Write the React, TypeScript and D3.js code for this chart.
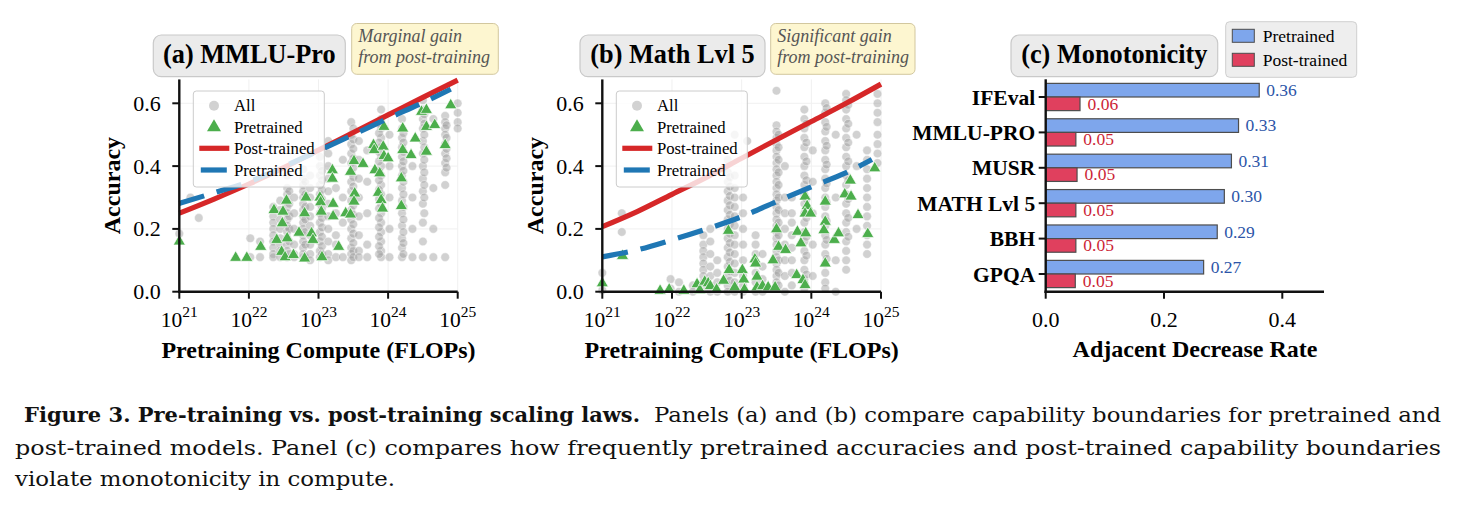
import * as d3 from "d3";

// ---- data ----
const logTicks = [21, 22, 23, 24, 25];
const accTicks = [0, 0.2, 0.4, 0.6];

// (a) MMLU-Pro: gray "All" points as columns [log10 compute, accuracies]
const mmluAll: [number, number[]][] = [
  [21.0, [0.185]],
  [21.16, [0.3]],
  [21.28, [0.235]],
  [22.02, [0.17, 0.11]],
  [22.16, [0.16, 0.11]],
  [22.35, [0.27, 0.24, 0.22, 0.2, 0.18, 0.16, 0.14, 0.12, 0.11]],
  [22.45, [0.29, 0.26, 0.23, 0.2, 0.17, 0.15, 0.13, 0.11]],
  [22.55, [0.37, 0.33, 0.31, 0.29, 0.27, 0.25, 0.23, 0.21, 0.19, 0.17, 0.15, 0.13, 0.11]],
  [22.58, [0.32, 0.28, 0.24, 0.2, 0.16, 0.12]],
  [22.65, [0.3, 0.25, 0.2, 0.15, 0.12, 0.11]],
  [22.78, [0.39, 0.36, 0.34, 0.32, 0.3, 0.28, 0.26, 0.24, 0.22, 0.2, 0.18, 0.16, 0.14, 0.12, 0.11]],
  [22.81, [0.35, 0.31, 0.27, 0.23, 0.19, 0.15, 0.11]],
  [22.88, [0.37, 0.33, 0.3, 0.27, 0.24, 0.21, 0.18, 0.15, 0.12, 0.1]],
  [23.02, [0.43, 0.4, 0.37, 0.34, 0.31, 0.28, 0.25, 0.22, 0.19, 0.16, 0.13, 0.11]],
  [23.05, [0.385, 0.355, 0.325, 0.295, 0.265, 0.235, 0.205, 0.175, 0.145, 0.12]],
  [23.14, [0.48, 0.44, 0.4, 0.36, 0.32, 0.28, 0.24, 0.2, 0.16, 0.12, 0.1]],
  [23.25, [0.33, 0.25, 0.18, 0.15, 0.11]],
  [23.35, [0.42, 0.3, 0.22, 0.11]],
  [23.47, [0.54, 0.5, 0.47, 0.44, 0.41, 0.38, 0.35, 0.32, 0.29, 0.26, 0.23, 0.2, 0.17, 0.14, 0.12, 0.1]],
  [23.5, [0.52, 0.485, 0.455, 0.425, 0.395, 0.365, 0.335, 0.305, 0.275, 0.245, 0.215, 0.185, 0.155, 0.13, 0.11]],
  [23.58, [0.48, 0.42, 0.36, 0.3, 0.24, 0.18, 0.13, 0.11]],
  [23.7, [0.45, 0.35, 0.25, 0.15, 0.11]],
  [23.9, [0.58, 0.55, 0.52, 0.49, 0.46, 0.43, 0.4, 0.37, 0.34, 0.31, 0.28, 0.25, 0.22, 0.19, 0.16, 0.13, 0.11]],
  [23.87, [0.535, 0.505, 0.475, 0.445, 0.415, 0.385, 0.355, 0.325, 0.295, 0.265, 0.235, 0.205, 0.175, 0.145, 0.12]],
  [24.02, [0.5, 0.4, 0.3, 0.2, 0.11]],
  [24.2, [0.55, 0.52, 0.49, 0.46, 0.43, 0.4, 0.37, 0.33, 0.29, 0.25, 0.21, 0.17, 0.14, 0.11]],
  [24.22, [0.505, 0.475, 0.445, 0.415, 0.385, 0.35, 0.31, 0.27, 0.23, 0.19, 0.155, 0.12]],
  [24.35, [0.4, 0.3, 0.2, 0.11]],
  [24.5, [0.61, 0.58, 0.55, 0.52, 0.48, 0.44, 0.4, 0.36, 0.32, 0.28, 0.22, 0.16, 0.11]],
  [24.52, [0.565, 0.535, 0.5, 0.46, 0.42, 0.38, 0.34, 0.3, 0.25]],
  [24.65, [0.55, 0.33, 0.2, 0.11]],
  [24.82, [0.56, 0.54, 0.52, 0.5, 0.47, 0.44, 0.41, 0.38, 0.34, 0.11]],
  [24.84, [0.53, 0.49, 0.455, 0.425, 0.395]],
  [25.0, [0.6, 0.57, 0.54, 0.52]],
];
const mmluPre: [number, number][] = [
  [21.0, 0.16], [21.81, 0.108], [21.97, 0.108], [22.17, 0.143], [22.36, 0.26], [22.4, 0.165],
  [22.47, 0.127], [22.49, 0.255], [22.48, 0.218], [22.52, 0.11], [22.54, 0.29], [22.55, 0.17],
  [22.64, 0.117], [22.72, 0.188], [22.8, 0.106], [22.8, 0.25], [22.82, 0.3], [22.9, 0.186],
  [22.92, 0.165], [23.02, 0.3], [23.03, 0.285], [23.04, 0.255], [23.05, 0.11], [23.2, 0.387],
  [23.2, 0.36], [23.21, 0.28], [23.21, 0.24], [23.29, 0.143], [23.39, 0.25], [23.46, 0.246],
  [23.46, 0.382], [23.51, 0.416], [23.52, 0.313], [23.51, 0.287], [23.64, 0.407], [23.79, 0.467],
  [23.8, 0.451], [23.81, 0.387], [23.88, 0.377], [23.86, 0.315], [23.9, 0.292], [23.92, 0.265],
  [23.93, 0.462], [23.94, 0.432], [23.94, 0.525], [24.0, 0.425], [24.19, 0.361], [24.19, 0.273],
  [24.21, 0.52], [24.21, 0.451], [24.33, 0.435], [24.39, 0.488], [24.48, 0.573], [24.55, 0.579],
  [24.55, 0.525], [24.55, 0.446], [24.67, 0.531], [24.82, 0.467], [24.9, 0.594],
];
const mmluPostFit: [number, number][] = [
  [21, 0.25], [21.5, 0.295], [22, 0.343], [22.5, 0.395], [23, 0.451],
  [23.5, 0.507], [24, 0.563], [24.5, 0.619], [25, 0.674],
];
const mmluPreFit: [number, number][] = [
  [21, 0.281], [21.5, 0.315], [22, 0.35], [22.5, 0.398], [23, 0.449],
  [23.5, 0.5], [24, 0.552], [24.5, 0.602], [24.9, 0.645],
];

// (b) Math Lvl 5
const mathAll: [number, number[]][] = [
  [21.0, [0.06, 0.005]],
  [21.28, [0.25, 0.19]],
  [21.98, [0.04, 0.01]],
  [22.1, [0.03, 0.0]],
  [22.3, [0.02, 0.0]],
  [22.45, [0.18, 0.15, 0.13, 0.11, 0.09, 0.07, 0.05, 0.03, 0.01]],
  [22.55, [0.2, 0.16, 0.12, 0.08, 0.05, 0.02, 0.0]],
  [22.65, [0.1, 0.06, 0.03, 0.0]],
  [22.8, [0.42, 0.38, 0.35, 0.32, 0.29, 0.26, 0.23, 0.2, 0.17, 0.14, 0.11, 0.08, 0.05, 0.02, 0.0]],
  [22.83, [0.365, 0.335, 0.305, 0.275, 0.245, 0.215, 0.185, 0.155, 0.125, 0.095, 0.065, 0.035]],
  [22.9, [0.5, 0.37, 0.33, 0.3, 0.27, 0.24, 0.21, 0.18, 0.15, 0.12, 0.09, 0.06, 0.03, 0.0]],
  [23.02, [0.3, 0.25, 0.2, 0.15, 0.1, 0.05, 0.02, 0.0]],
  [23.08, [0.48]],
  [23.2, [0.18, 0.15, 0.12, 0.09, 0.06, 0.03, 0.0]],
  [23.3, [0.12, 0.08, 0.04, 0.0]],
  [23.5, [0.64, 0.53, 0.51, 0.49, 0.47, 0.45, 0.43, 0.41, 0.39, 0.37, 0.35, 0.33, 0.31, 0.29, 0.27, 0.25, 0.23, 0.21, 0.19, 0.17, 0.15, 0.13, 0.11, 0.09, 0.07, 0.05, 0.03, 0.01]],
  [23.53, [0.5, 0.46, 0.42, 0.38, 0.34, 0.3, 0.26, 0.22, 0.18, 0.14, 0.1, 0.06, 0.02]],
  [23.62, [0.4, 0.3, 0.25, 0.2, 0.15, 0.1, 0.05, 0.0]],
  [23.72, [0.3, 0.25, 0.22, 0.18, 0.14, 0.1, 0.06, 0.02]],
  [23.9, [0.58, 0.55, 0.52, 0.49, 0.46, 0.43, 0.4, 0.37, 0.34, 0.31, 0.28, 0.25, 0.22, 0.19, 0.16, 0.13, 0.1, 0.07, 0.04, 0.01]],
  [23.93, [0.535, 0.475, 0.415, 0.355, 0.295, 0.235, 0.175, 0.115, 0.055]],
  [24.02, [0.45, 0.35, 0.25, 0.15, 0.05]],
  [24.2, [0.6, 0.57, 0.54, 0.51, 0.48, 0.45, 0.42, 0.39, 0.36, 0.33, 0.3, 0.27, 0.24, 0.21, 0.18, 0.15, 0.12, 0.09, 0.06, 0.03, 0.01]],
  [24.22, [0.585, 0.525, 0.465, 0.405, 0.345, 0.285, 0.225, 0.165, 0.105]],
  [24.35, [0.5, 0.3, 0.1, 0.0]],
  [24.5, [0.63, 0.61, 0.58, 0.55, 0.52, 0.49, 0.46, 0.43, 0.4, 0.37, 0.34, 0.31, 0.28, 0.25, 0.22, 0.19, 0.16, 0.13, 0.1, 0.07]],
  [24.53, [0.595, 0.535, 0.475, 0.415, 0.355, 0.295, 0.235, 0.175]],
  [24.65, [0.5, 0.4, 0.2]],
  [24.8, [0.45, 0.42, 0.39, 0.36, 0.33, 0.3, 0.27, 0.24, 0.21, 0.18, 0.15, 0.12]],
  [24.95, [0.63, 0.6, 0.57, 0.54, 0.5, 0.47, 0.44, 0.41]],
];
const mathPre: [number, number][] = [
  [21.0, 0.027], [21.29, 0.114], [21.83, 0.003], [21.96, 0.007], [22.17, 0.003], [22.36, 0.024],
  [22.4, 0.005], [22.47, 0.032], [22.52, 0.027], [22.55, 0.018], [22.64, 0.007], [22.74, 0.035],
  [22.81, 0.194], [22.82, 0.069], [22.9, 0.014], [23.01, 0.069], [23.03, 0.039], [23.04, 0.007],
  [23.19, 0.103], [23.2, 0.09], [23.22, 0.048], [23.22, 0.014], [23.3, 0.018], [23.38, 0.014],
  [23.45, 0.1], [23.48, 0.014], [23.5, 0.199], [23.53, 0.143], [23.63, 0.133], [23.79, 0.053],
  [23.8, 0.191], [23.85, 0.154], [23.88, 0.037], [23.91, 0.303], [23.92, 0.186], [23.94, 0.273],
  [23.91, 0.249], [23.99, 0.249], [23.91, 0.021], [24.2, 0.287], [24.2, 0.223], [24.18, 0.196],
  [24.2, 0.09], [24.33, 0.165], [24.39, 0.186], [24.48, 0.31], [24.56, 0.354], [24.57, 0.303],
  [24.67, 0.244], [24.81, 0.184], [24.91, 0.393],
];
const mathPostFit: [number, number][] = [
  [21, 0.207], [21.5, 0.255], [22, 0.31], [22.5, 0.365], [23, 0.425],
  [23.5, 0.484], [24, 0.542], [24.5, 0.6], [25, 0.661],
];
const mathPreFit: [number, number][] = [
  [21, 0.111], [21.5, 0.133], [22, 0.165], [22.5, 0.2], [23, 0.239],
  [23.5, 0.287], [24, 0.334], [24.5, 0.379], [24.87, 0.421],
];

// (c) Monotonicity
const benchmarks = ["IFEval", "MMLU-PRO", "MUSR", "MATH Lvl 5", "BBH", "GPQA"];
const preRates = [0.361, 0.326, 0.314, 0.302, 0.29, 0.267];
const postRates = [0.058, 0.051, 0.053, 0.051, 0.051, 0.05];
const rateTicks = [0, 0.2, 0.4];

const SERIF = "'Liberation Serif', 'Times New Roman', serif";
const RED = "#d62728";
const BLUE = "#1f77b4";
const GREEN = "#4cae4c";

const yAcc = d3.scaleLinear().domain([0, 0.6]).range([291.7, 103.3]);
const tri = d3.symbol().type(d3.symbolTriangle).size(64)();
const tickFmt = d3.format(".1f");

function ScatterPanel(props: any) {
  const { x, all, pre, postFit, preFit, title, titleBox, note, noteBox } = props;
  const left = x.range()[0];
  const right = x.range()[1];
  const top = yAcc(0.676);
  const bottom = yAcc(0);
  const line = d3
    .line<[number, number]>()
    .x((d) => x(d[0]))
    .y((d) => yAcc(d[1]))
    .curve(d3.curveMonotoneX);
  const pts: [number, number][] = [];
  all.forEach(([c, ys]: [number, number[]]) => ys.forEach((v) => pts.push([c, v])));
  const lg = { x: left + 14, y: 91, w: 131, h: 96 };

  return (
    <g>
      {/* grid */}
      {logTicks.map((t) => (
        <line key={"gx" + t} x1={x(t)} x2={x(t)} y1={top} y2={bottom} stroke="#f0f0f0" />
      ))}
      {accTicks.map((t) => (
        <line key={"gy" + t} x1={left} x2={right} y1={yAcc(t)} y2={yAcc(t)} stroke="#f0f0f0" />
      ))}

      {/* all points */}
      {pts.map((d, i) => (
        <circle key={"a" + i} cx={x(d[0])} cy={yAcc(d[1])} r={4.3}
          fill="#9a9a9a" fillOpacity={0.45} stroke="#fff" strokeWidth={0.6} strokeOpacity={0.7} />
      ))}
      {/* pretrained models */}
      {pre.map((d: [number, number], i: number) => (
        <path key={"p" + i} d={tri} transform={`translate(${x(d[0])},${yAcc(d[1])})`}
          fill={GREEN} stroke="#fff" strokeWidth={0.7} />
      ))}

      {/* fits */}
      <path d={line(postFit) as string} fill="none" stroke={RED} strokeWidth={5.2} />
      <path d={line(preFit) as string} fill="none" stroke={BLUE} strokeWidth={5.2} strokeDasharray="26,13" />

      {/* legend */}
      <rect x={lg.x} y={lg.y} width={lg.w} height={lg.h} rx={3} fill="#fff" fillOpacity={0.8} stroke="#cccccc" />
      <circle cx={lg.x + 20.7} cy={105.7} r={5} fill="#a6a6a6" fillOpacity={0.5} />
      <path d={tri} transform={`translate(${lg.x + 20.7},${127.3}) scale(1.15)`} fill={GREEN} />
      <line x1={lg.x + 6} x2={lg.x + 36} y1={148.3} y2={148.3} stroke={RED} strokeWidth={5.2} />
      <line x1={lg.x + 7.5} x2={lg.x + 33.5} y1={170} y2={170} stroke={BLUE} strokeWidth={5.2} />
      {["All", "Pretrained", "Post-trained", "Pretrained"].map((s, i) => (
        <text key={"lt" + i} x={lg.x + 40.7} y={111 + i * 21.6} fontSize={16.7} fontFamily={SERIF}>{s}</text>
      ))}

      {/* axes */}
      <line x1={left} x2={left} y1={top} y2={bottom + 1.2} stroke="#111" strokeWidth={2.4} />
      <line x1={left - 1.2} x2={right} y1={bottom} y2={bottom} stroke="#111" strokeWidth={2.4} />
      {accTicks.map((t) => (
        <g key={"yt" + t}>
          <line x1={left - 7} x2={left} y1={yAcc(t)} y2={yAcc(t)} stroke="#111" strokeWidth={2} />
          <text x={left - 18.6} y={yAcc(t) + 7.4} textAnchor="end" fontSize={22} fontFamily={SERIF}>{tickFmt(t)}</text>
        </g>
      ))}
      {logTicks.map((t) => (
        <g key={"xt" + t}>
          <line x1={x(t)} x2={x(t)} y1={bottom} y2={bottom + 7} stroke="#111" strokeWidth={2} />
          <text x={x(t)} y={bottom + 35} textAnchor="middle" fontSize={21.5} fontFamily={SERIF}>
            10<tspan dy={-9.5} fontSize={15.5}>{t}</tspan>
          </text>
        </g>
      ))}
      <text x={(left + right) / 2} y={358.3} textAnchor="middle" fontSize={24} fontWeight="bold" fontFamily={SERIF}>
        Pretraining Compute (FLOPs)
      </text>
      <text transform={`translate(${left - 59},${(top + bottom) / 2}) rotate(-90)`} textAnchor="middle"
        fontSize={24} fontWeight="bold" fontFamily={SERIF}>Accuracy</text>

      {/* title + note */}
      <rect x={titleBox[0]} y={35} width={titleBox[1] - titleBox[0]} height={41.7} rx={8}
        fill="#ebebeb" stroke="#c9c9c9" strokeWidth={1.2} />
      <text x={(titleBox[0] + titleBox[1]) / 2} y={62.8} textAnchor="middle" fontSize={26.3} fontWeight="bold" fontFamily={SERIF}>
        {title}
      </text>
      <rect x={noteBox[0]} y={23.5} width={noteBox[1] - noteBox[0]} height={50.8} rx={5}
        fill="#fdf6d0" stroke="#d2c79e" strokeWidth={1} />
      {note.map((s: string, i: number) => (
        <text key={"n" + i} x={noteBox[0] + 6.5} y={41.7 + i * 21.6} fontSize={18} fontStyle="italic" fill="#555" fontFamily={SERIF}>
          {s}
        </text>
      ))}
    </g>
  );
}

function BarPanel() {
  const xr = d3.scaleLinear().domain([0, 0.4]).range([1045.7, 1282.3]);
  const yb = d3.scaleBand().domain(benchmarks).range([79.3, 291.7]);
  const h = yb.bandwidth() * 0.385;
  const fmt = d3.format(".2f");
  const x0 = xr(0);
  const bottom = 291.7;
  return (
    <g>
      {benchmarks.map((b, i) => {
        const c = (yb(b) as number) + yb.bandwidth() / 2;
        return (
          <g key={b}>
            <rect x={x0} y={c - h} width={xr(preRates[i]) - x0} height={h} fill="#7ea6ec" stroke="#4d4d4d" strokeWidth={1.2} />
            <rect x={x0} y={c} width={xr(postRates[i]) - x0} height={h} fill="#e0405e" stroke="#4d4d4d" strokeWidth={1.2} />
            <text x={xr(preRates[i]) + 7} y={c - h / 2 + 5.8} fontSize={17.5} fill="#2c55a8" fontFamily={SERIF}>{fmt(preRates[i])}</text>
            <text x={xr(postRates[i]) + 7.5} y={c + h / 2 + 5.8} fontSize={17.5} fill="#cc1f36" fontFamily={SERIF}>{fmt(postRates[i])}</text>
            <line x1={x0 - 7} x2={x0} y1={c} y2={c} stroke="#111" strokeWidth={2} />
            <text x={x0 - 10.5} y={c + 7.5} textAnchor="end" fontSize={21.5} fontWeight="bold" fontFamily={SERIF}>{b}</text>
          </g>
        );
      })}
      <line x1={x0} x2={x0} y1={79.3} y2={bottom + 1.2} stroke="#111" strokeWidth={2.4} />
      <line x1={x0 - 1.2} x2={1324} y1={bottom} y2={bottom} stroke="#111" strokeWidth={2.4} />
      {rateTicks.map((t) => (
        <g key={"rt" + t}>
          <line x1={xr(t)} x2={xr(t)} y1={bottom} y2={bottom + 7} stroke="#111" strokeWidth={2} />
          <text x={xr(t)} y={bottom + 35} textAnchor="middle" fontSize={22} fontFamily={SERIF}>{tickFmt(t)}</text>
        </g>
      ))}
      <text x={1195} y={357} textAnchor="middle" fontSize={24} fontWeight="bold" fontFamily={SERIF}>Adjacent Decrease Rate</text>

      <rect x={1011} y={35} width={206.7} height={41.7} rx={8} fill="#ebebeb" stroke="#c9c9c9" strokeWidth={1.2} />
      <text x={1114.3} y={63} textAnchor="middle" fontSize={26.3} fontWeight="bold" fontFamily={SERIF}>(c) Monotonicity</text>

      <rect x={1225.7} y={21.7} width={131} height={55.6} rx={4} fill="#eeeeee" stroke="#cfcfcf" />
      <rect x={1232.3} y={29.3} width={22} height={13} fill="#7ea6ec" stroke="#4d4d4d" />
      <rect x={1232.3} y={53.3} width={22} height={13} fill="#e0405e" stroke="#4d4d4d" />
      <text x={1262.7} y={41.5} fontSize={17.5} fontFamily={SERIF}>Pretrained</text>
      <text x={1262.7} y={65.5} fontSize={17.5} fontFamily={SERIF}>Post-trained</text>
    </g>
  );
}

export default function App() {
  const xA = d3.scaleLinear().domain([21, 25]).range([179.3, 457.7]);
  const xB = d3.scaleLinear().domain([21, 25]).range([602.3, 881]);
  const CAP = "'DejaVu Serif', serif";
  return (
    <svg width={1457} height={512} style={{ position: "absolute", left: 0, top: 0, background: "#fff" }}>
      <ScatterPanel x={xA} all={mmluAll} pre={mmluPre} postFit={mmluPostFit} preFit={mmluPreFit}
        title="(a) MMLU-Pro" titleBox={[153.3, 345.3]} note={["Marginal gain", "from post-training"]} noteBox={[351.7, 498.3]} />
      <ScatterPanel x={xB} all={mathAll} pre={mathPre} postFit={mathPostFit} preFit={mathPreFit}
        title="(b) Math Lvl 5" titleBox={[580, 765]} note={["Significant gain", "from post-training"]} noteBox={[770.7, 915]} />
      <BarPanel />

      <g fontFamily={CAP} fontSize={19.5} fill="#111">
        <text x={24} y={421.7} fontWeight="bold" textLength={616} lengthAdjust="spacingAndGlyphs">
          Figure 3. Pre-training vs. post-training scaling laws.
        </text>
        <text x={654} y={421.7} textLength={787} lengthAdjust="spacingAndGlyphs">
          Panels (a) and (b) compare capability boundaries for pretrained and
        </text>
        <text x={15} y={454.5} textLength={1426} lengthAdjust="spacingAndGlyphs">
          post-trained models. Panel (c) compares how frequently pretrained accuracies and post-trained capability boundaries
        </text>
        <text x={15} y={486} textLength={380} lengthAdjust="spacingAndGlyphs">
          violate monotonicity in compute.
        </text>
      </g>
    </svg>
  );
}
